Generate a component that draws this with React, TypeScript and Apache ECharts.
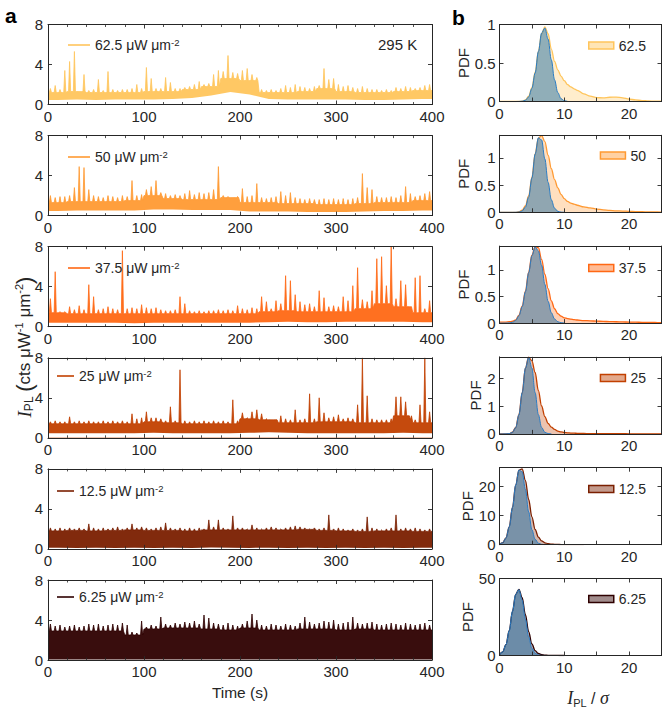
import React, { useEffect, useRef } from "react";
import * as echarts from "echarts";

const SANS = "'Liberation Sans', Arial, Helvetica, sans-serif";
const SERIF = "'Liberation Serif', 'Times New Roman', serif";
const INK = "#262626";

// ---------- data ----------
const powerLabels = ["62.5", "50", "37.5", "25", "12.5", "6.25"];
const traceColors = ["#FFC55C", "#FF9A33", "#FF6814", "#C24000", "#7A1F00", "#2E0000"];
const traceFills = [
  "rgba(255,197,92,0.45)",
  "rgba(255,154,51,0.45)",
  "rgba(255,104,20,0.45)",
  "rgba(194,64,0,0.45)",
  "rgba(122,31,0,0.45)",
  "rgba(46,0,0,0.45)",
];
const timeTicks = [0, 100, 200, 300, 400];
const intensityTicks = [0, 4, 8];
const BIN = 5; // s, resolution of peak envelope
const MID_BIN = 20; // s, resolution of band top / bottom

// peak value reached in each 5 s bin (cts µW-1 µm-2)
const hi1 = [1.6,1.9,1.5,3.4,4.3,5.3,1.3,3.0,1.4,1.5, 2.5,1.4,3.3,1.5,1.4,1.5,1.5,1.6,2.0,1.6,
  3.7,2.6,1.6,1.6,2.7,2.2,1.6,1.6,1.7,1.8, 2.0,2.3,2.0,2.1,3.0,3.4,3.3,4.9,3.2,3.1,
  3.4,3.6,3.0,2.7,1.5,1.4,1.5,1.4,1.6,1.9, 1.7,2.0,1.8,1.7,1.6,1.8,1.9,3.6,2.5,2.6,
  2.0,1.8,1.9,1.7,1.6,1.8,1.6,1.5,1.5,1.4, 1.5,1.4,1.7,1.6,1.8,1.7,1.6,1.7,1.9,2.0];
const hi2 = [2.0,1.8,1.9,1.9,2.0,2.8,4.9,4.8,2.6,2.0, 1.9,1.8,2.0,1.9,1.8,2.0,1.9,3.5,2.0,2.1,
  2.6,2.9,3.5,2.3,2.2,2.0,2.1,2.0,2.2,2.5, 2.1,2.3,2.2,2.3,2.6,4.9,2.0,1.9,1.8,1.9,
  2.7,1.9,2.0,3.2,1.8,1.7,1.8,1.9,2.4,2.0, 2.3,1.8,1.7,1.6,1.7,1.6,1.6,1.7,1.6,1.7,
  1.6,1.7,1.6,1.7,1.8,4.2,2.8,2.6,1.9,1.8, 1.8,1.9,1.8,2.0,2.9,2.2,1.9,2.0,2.2,2.4];
const hi3 = [2.8,5.5,1.5,1.5,2.0,1.7,2.1,1.7,4.2,3.0, 1.7,1.8,2.0,1.8,1.7,7.6,1.8,1.9,1.8,2.2,
  1.9,1.8,1.9,1.7,1.6,1.6,1.7,3.0,2.3,1.6, 1.5,1.6,1.5,1.6,1.6,1.7,1.6,1.7,1.6,2.1,
  1.8,1.7,1.9,1.8,3.0,2.5,1.8,2.6,2.3,5.1, 4.6,3.2,2.5,2.2,2.3,2.0,3.6,2.9,2.0,2.1,
  2.0,3.0,2.6,4.1,5.9,2.7,2.5,3.6,6.8,7.0, 4.1,8.0,2.8,4.6,4.2,2.0,4.9,5.1,1.8,2.6];
const hi4 = [1.6,1.7,1.6,1.6,2.1,1.6,1.7,1.6,1.7,1.6, 1.6,1.7,1.6,1.7,1.6,1.7,1.6,2.4,1.9,2.0,
  2.6,2.0,2.0,1.9,1.7,3.1,1.7,6.8,1.7,1.6, 1.7,1.6,1.7,1.6,1.7,1.6,1.7,1.6,3.8,1.7,
  2.5,2.0,2.6,2.8,2.4,1.9,1.8,1.8,2.2,1.9, 1.8,2.8,1.8,1.9,4.4,1.9,4.0,2.5,2.0,2.1,
  2.3,1.9,2.0,1.9,3.3,8.0,4.2,1.9,1.8,1.8, 1.8,1.9,4.1,4.1,3.6,1.8,1.8,3.3,8.0,2.6];
const hi5 = [2.1,2.0,2.1,2.0,2.1,2.0,2.1,2.0,2.5,2.1, 2.0,2.1,2.0,2.1,2.2,2.0,2.1,2.5,2.1,2.2,
  2.1,2.0,2.1,2.2,2.6,2.1,2.0,2.1,2.0,2.1, 2.0,2.1,2.0,2.9,2.2,2.9,2.1,2.0,3.3,2.1,
  2.1,2.0,2.4,2.1,2.0,2.1,2.2,2.1,2.0,2.1, 2.2,2.3,2.2,2.1,2.0,2.1,2.0,2.1,3.4,2.0,
  2.1,2.0,1.9,2.0,1.9,2.0,3.2,2.1,2.0,1.9, 2.0,2.1,3.4,2.0,2.1,2.0,2.1,2.0,1.9,2.0];
const hi6 = [3.6,3.4,3.5,3.3,3.4,3.5,3.3,3.4,3.6,3.5, 3.6,3.4,3.5,3.6,3.5,3.7,3.5,2.8,2.7,3.9,
  3.3,3.5,3.4,4.3,3.6,3.5,3.7,3.6,3.8,3.7, 3.9,3.6,4.5,4.2,3.7,3.6,3.5,3.7,3.5,3.4,
  3.6,3.9,4.6,4.0,3.5,3.4,3.6,3.5,3.4,3.6, 3.5,3.4,3.7,4.3,3.8,3.6,3.7,3.9,3.8,4.0,
  3.6,3.7,3.8,4.3,3.7,3.6,3.7,3.8,3.6,3.5, 3.6,3.7,3.6,3.5,3.7,3.6,3.5,3.6,3.7,3.5];

// top of the dense band in each 20 s bin
const mid1 = [1.2,1.3,1.2,1.2,1.2,1.3,1.3,1.5,1.8,2.6,2.4,1.2,1.2,1.3,1.6,1.3,1.2,1.2,1.3,1.4];
const mid2 = [1.3,1.4,1.4,1.4,1.5,2.0,1.7,1.6,1.6,1.8,1.3,1.3,1.2,1.2,1.1,1.1,1.2,1.3,1.3,1.5];
const mid3 = [1.4,1.3,1.3,1.3,1.3,1.3,1.3,1.3,1.3,1.3,1.3,1.5,1.6,1.5,1.5,1.5,1.8,2.3,2.0,1.4];
const mid4 = [1.4,1.4,1.4,1.4,1.4,1.6,1.5,1.4,1.4,1.4,1.9,1.8,1.5,1.5,1.6,1.6,1.5,1.5,2.2,1.5];
const mid5 = [1.8,1.85,1.8,1.85,1.9,1.85,1.85,1.8,1.9,1.9,1.9,1.9,1.9,1.95,1.85,1.8,1.75,1.8,1.8,1.75];
const mid6 = [2.9,2.9,2.9,2.9,2.5,3.1,3.2,3.2,3.1,3.0,3.2,3.0,3.0,3.1,3.1,3.0,3.1,3.0,3.0,3.0];

// bottom of the band in each 20 s bin
const lo1 = [0.45,0.5,0.45,0.5,0.5,0.5,0.55,0.65,0.9,1.25,1.0,0.55,0.5,0.5,0.5,0.5,0.45,0.45,0.5,0.55];
const lo2 = [0.45,0.5,0.5,0.5,0.5,0.6,0.6,0.55,0.55,0.55,0.4,0.4,0.4,0.35,0.35,0.35,0.4,0.45,0.45,0.5];
const lo3 = [0.4,0.4,0.4,0.4,0.35,0.4,0.4,0.4,0.4,0.4,0.4,0.45,0.5,0.45,0.45,0.5,0.5,0.5,0.5,0.45];
const lo4 = [0.45,0.45,0.45,0.45,0.45,0.5,0.45,0.45,0.45,0.45,0.5,0.55,0.5,0.45,0.45,0.45,0.45,0.45,0.5,0.45];
const lo5 = [0.12,0.1,0.12,0.1,0.12,0.1,0.12,0.1,0.15,0.12,0.1,0.12,0.1,0.12,0.1,0.12,0.1,0.12,0.1,0.12];
const lo6 = [0.06,0.05,0.06,0.05,0.06,0.05,0.06,0.05,0.06,0.05,0.06,0.05,0.06,0.05,0.06,0.05,0.06,0.05,0.06,0.05];

// PDF panels (x = I_PL / sigma)
const pdfX = [0,0.5,1,1.5,2,2.5,3,3.5,4,4.5,5,5.5,6,6.5,7,7.5,8,8.5,9,9.5,10,10.5,11,11.5,12,
  13,14,15,16,17,18,19,20,21,22,23,24,25];
const pdf1 = [0,0,0,0,0,0,0.001,0.005,0.02,0.07,0.18,0.38,0.65,0.88,0.97,0.88,0.68,0.52,0.41,0.33,
  0.27,0.22,0.19,0.165,0.145,0.1,0.07,0.05,0.048,0.055,0.057,0.048,0.032,0.02,0.012,0.007,0.004,0.003];
const pdf2 = [0,0,0,0,0,0,0.01,0.04,0.12,0.3,0.64,1.08,1.36,1.41,1.3,1.05,0.8,0.6,0.45,0.33,
  0.25,0.2,0.17,0.15,0.13,0.1,0.08,0.06,0.045,0.035,0.028,0.022,0.018,0.013,0.01,0.008,0.006,0.005];
const pdf3 = [0.02,0.02,0.02,0.025,0.035,0.06,0.15,0.32,0.6,0.96,1.28,1.44,1.42,1.2,0.92,0.65,0.42,0.27,0.18,0.13,
  0.1,0.085,0.075,0.065,0.058,0.048,0.042,0.037,0.032,0.028,0.025,0.022,0.02,0.017,0.015,0.013,0.011,0.01];
const pdf4 = [0,0,0.001,0.01,0.06,0.23,0.69,1.48,2.36,2.75,2.62,2.2,1.55,1.0,0.62,0.38,0.24,0.16,0.1,0.07,
  0.05,0.04,0.03,0.025,0.02,0.015,0.01,0.008,0.007,0.006,0.005,0.005,0.004,0.004,0.003,0.003,0.003,0.003];
const pdf5 = [0.16,0.68,2.3,6.1,12.7,20.4,25.5,25.9,22,15.5,9.5,5.2,2.6,1.3,0.65,0.35,0.2,0.12,0.08,0.05,
  0.04,0.03,0.025,0.02,0.015,0.01];
const pdf6 = [0.64,2.4,7.1,16.1,28.7,39.7,43,37.5,26.5,15.5,7.5,3.2,1.3,0.55,0.25,0.12,0.06,0.03,0.02,0.01,0.01];

// fitted Gaussians (blue)
const gauss1 = [0,0,0,0,0,0,0.001,0.004,0.017,0.06,0.17,0.37,0.65,0.89,0.955,0.81,0.54,0.28,0.115,0.037,0.01,0.002];
const gauss2 = [0,0,0,0,0,0.001,0.005,0.025,0.096,0.28,0.63,1.07,1.37,1.33,0.98,0.55,0.23,0.075,0.018,0.003,0];
const gauss3 = [0,0,0.001,0.004,0.016,0.05,0.14,0.31,0.59,0.95,1.27,1.435,1.36,1.09,0.73,0.41,0.195,0.078,0.026,0.007,0.002];
const gauss4 = [0,0,0.001,0.01,0.058,0.23,0.69,1.48,2.36,2.75,2.36,1.48,0.69,0.23,0.058,0.01,0.001];
const gauss5 = [0.16,0.68,2.3,6.1,12.7,20.4,25.5,24.9,18.9,11.2,5.1,1.85,0.52,0.11,0.02];
const gauss6 = [0.64,2.4,7.1,16.1,28.7,39.7,42.8,35.9,23.5,12,4.7,1.46,0.35,0.07,0.01];

const pdfYMax = [1, 1.415, 1.45, 2.76, 26.3, 50];
const pdfYInterval = [0.5, 0.5, 0.5, 1, 10, 50];

// ---------- layout ----------
const leftGrid = { left: 48, width: 384, height: 80, top0: 24.5, step: 111.1 };
const rightGrid = { left: 499.5, width: 162, height: 77, top0: 24.5, step: 110.8 };
const leftLegendLeft = [68, 68, 68, 57, 57, 57];
const leftLegendWidth = [22, 22, 22, 17, 17, 17];
const leftLegendCy = [45, 157, 268, 376, 491, 597];
const rightLegendCy = [45.5, 155.5, 268, 378, 489, 599];
const pdfNameGap = [28, 28, 28, 14.5, 24, 24];
const SPIKE_HALF = 1.1; // s, half-width of each peak in the trace drawing

const hiSets = [hi1, hi2, hi3, hi4, hi5, hi6];
const midSets = [mid1, mid2, mid3, mid4, mid5, mid6];
const loSets = [lo1, lo2, lo3, lo4, lo5, lo6];
const pdfSets = [pdf1, pdf2, pdf3, pdf4, pdf5, pdf6];
const gaussSets = [gauss1, gauss2, gauss3, gauss4, gauss5, gauss6];

function spikes(hi: number[], mid: number[]) {
  const per = MID_BIN / BIN;
  const pts: number[][] = [];
  hi.forEach((h, i) => {
    const m = mid[Math.floor(i / per)];
    const c = i * BIN + BIN / 2;
    pts.push([i * BIN, m]);
    pts.push([c - SPIKE_HALF, m]);
    pts.push([c, h]);
    pts.push([c + SPIKE_HALF, m]);
  });
  pts.push([hi.length * BIN, mid[mid.length - 1]]);
  return pts;
}
function maskLine(lo: number[]) {
  const pts: number[][] = [[0, lo[0]]];
  lo.forEach((v, j) => pts.push([j * MID_BIN + MID_BIN / 2, v]));
  pts.push([lo.length * MID_BIN, lo[lo.length - 1]]);
  return pts;
}
function zip(xs: number[], ys: number[]) {
  return ys.map((y, k) => [xs[k], y]);
}

function buildOption() {
  const grid: any[] = [];
  const xAxis: any[] = [];
  const yAxis: any[] = [];
  const series: any[] = [];
  const legend: any[] = [];

  const line = { show: true, onZero: false, lineStyle: { color: INK, width: 1 } };
  const tick = { show: true, inside: true, length: 4, lineStyle: { color: INK, width: 0.9 } };
  const label = (show: boolean, extra: any = {}) => ({
    show, color: INK, fontSize: 15, fontFamily: SANS, margin: 4, ...extra,
  });

  function addAxes(g: number, xs: any, ys: any) {
    const common = { type: "value", gridIndex: g, z: 10, splitLine: { show: false }, axisLine: line, axisTick: tick };
    for (const pos of ["bottom", "top"]) {
      xAxis.push({
        ...common, position: pos, min: xs.min, max: xs.max, interval: xs.interval,
        minorTick: xs.minor ? { show: true, splitNumber: xs.minor, length: 2.5, lineStyle: { color: INK, width: 0.8 } } : { show: false },
        axisLabel: label(pos === "bottom", xs.formatter ? { formatter: xs.formatter } : {}),
      });
    }
    for (const pos of ["left", "right"]) {
      const y: any = {
        ...common, position: pos, min: ys.min, max: ys.max, interval: ys.interval,
        axisLabel: label(pos === "left", { showMaxLabel: !ys.hideMax, margin: ys.margin ?? 4 }),
      };
      if (pos === "left" && ys.name) {
        y.name = ys.name;
        y.nameLocation = "middle";
        y.nameGap = ys.nameGap;
        y.nameTextStyle = { color: INK, fontSize: 15, fontFamily: SANS };
      }
      yAxis.push(y);
    }
  }

  for (let i = 0; i < 6; i++) {
    const c = traceColors[i];
    // ----- left: time trace -----
    const gL = grid.length;
    grid.push({ left: leftGrid.left, width: leftGrid.width, height: leftGrid.height, top: leftGrid.top0 + leftGrid.step * i });
    addAxes(gL,
      { min: timeTicks[0], max: timeTicks[timeTicks.length - 1], interval: timeTicks[1] - timeTicks[0], minor: 5 },
      { min: intensityTicks[0], max: intensityTicks[intensityTicks.length - 1], interval: intensityTicks[1] - intensityTicks[0], margin: 5 });
    series.push({
      type: "line", name: "trace" + i, xAxisIndex: 2 * gL, yAxisIndex: 2 * gL,
      data: spikes(hiSets[i], midSets[i]), symbol: "none", silent: true,
      lineStyle: { color: c, width: 0.8 }, itemStyle: { color: c },
      areaStyle: { color: c, opacity: 0.95 }, z: 2,
    });
    series.push({
      type: "line", name: "mask" + i, xAxisIndex: 2 * gL, yAxisIndex: 2 * gL,
      data: maskLine(loSets[i]), symbol: "none", silent: true,
      lineStyle: { width: 0, opacity: 0 }, areaStyle: { color: "#ffffff", opacity: 1 }, z: 3,
    });
    const p = powerLabels[i];
    legend.push({
      data: ["trace" + i], left: leftLegendLeft[i], top: leftLegendCy[i] - 8, padding: 0,
      icon: "rect", itemWidth: leftLegendWidth[i], itemHeight: 1.6, selectedMode: false,
      itemStyle: { color: c, borderWidth: 0 },
      formatter: () => `{t|${p} μW μm}{s|-2}`,
      textStyle: {
        color: INK, fontFamily: SANS, fontSize: 14,
        rich: {
          t: { color: INK, fontFamily: SANS, fontSize: 14, lineHeight: 16 },
          s: { color: INK, fontFamily: SANS, fontSize: 9.5, lineHeight: 9, verticalAlign: "top" },
        },
      },
    });

    // ----- right: PDF -----
    const gR = grid.length;
    grid.push({ left: rightGrid.left, width: rightGrid.width, height: rightGrid.height, top: rightGrid.top0 + rightGrid.step * i });
    addAxes(gR,
      { min: 0, max: 25, interval: 5, formatter: (v: number) => (v % 10 === 0 && v < 25 ? String(v) : "") },
      { min: 0, max: pdfYMax[i], interval: pdfYInterval[i], hideMax: pdfYMax[i] % pdfYInterval[i] !== 0, name: "PDF", nameGap: pdfNameGap[i] });
    series.push({
      type: "line", name: "pdf" + i, xAxisIndex: 2 * gR, yAxisIndex: 2 * gR,
      data: zip(pdfX, pdfSets[i]), smooth: 0.35, smoothMonotone: "x", symbol: "none", silent: true,
      lineStyle: { color: c, width: 1.3 }, itemStyle: { color: c },
      areaStyle: { color: traceFills[i] }, z: 2,
    });
    series.push({
      type: "line", name: "gauss" + i, xAxisIndex: 2 * gR, yAxisIndex: 2 * gR,
      data: zip(pdfX, gaussSets[i]), smooth: 0.35, smoothMonotone: "x", symbol: "none", silent: true,
      lineStyle: { color: "#2A7CC4", width: 1 }, itemStyle: { color: "#2A7CC4" },
      areaStyle: { color: "rgba(12,100,161,0.65)" }, z: 3,
    });
    legend.push({
      data: ["pdf" + i], right: 19, top: rightLegendCy[i] - 8, padding: 0,
      icon: "rect", itemWidth: 25, itemHeight: 7, selectedMode: false,
      itemStyle: { color: traceFills[i], borderColor: c, borderWidth: 1.5 },
      formatter: () => p,
      textStyle: { color: INK, fontFamily: SANS, fontSize: 14, lineHeight: 16 },
    });
  }

  const graphic = [
    { type: "text", x: 5, y: 15, silent: true,
      style: { text: "a", fill: "#000", fontSize: 21, fontWeight: "bold", fontFamily: SANS, align: "left", verticalAlign: "middle" } },
    { type: "text", x: 452, y: 17, silent: true,
      style: { text: "b", fill: "#000", fontSize: 21, fontWeight: "bold", fontFamily: SANS, align: "left", verticalAlign: "middle" } },
    { type: "text", x: 378, y: 44, silent: true,
      style: { text: "295 K", fill: INK, fontSize: 15, fontFamily: SANS, align: "left", verticalAlign: "middle" } },
    { type: "text", x: 240, y: 692, silent: true,
      style: { text: "Time (s)", fill: INK, fontSize: 15.5, fontFamily: SANS, align: "center", verticalAlign: "middle" } },
    { type: "text", x: 24, y: 347, rotation: Math.PI / 2, silent: true,
      style: {
        text: "{i|I}{sub|PL}{t| }{p|(}{t|cts μW}{sup|-1}{t| μm}{sup|-2}{p|)}",
        fill: INK, fontSize: 17, fontFamily: SANS, align: "center", verticalAlign: "middle",
        rich: {
          i: { fill: INK, fontFamily: SERIF, fontStyle: "italic", fontSize: 19, lineHeight: 22 },
          sub: { fill: INK, fontFamily: SANS, fontSize: 12, lineHeight: 12, verticalAlign: "bottom" },
          t: { fill: INK, fontFamily: SANS, fontSize: 17, lineHeight: 22 },
          p: { fill: INK, fontFamily: SANS, fontSize: 22, lineHeight: 22 },
          sup: { fill: INK, fontFamily: SANS, fontSize: 11, lineHeight: 11, verticalAlign: "top" },
        },
      } },
    { type: "text", x: 588, y: 698, silent: true,
      style: {
        text: "{i|I}{sub|PL}{t| / }{g|σ}",
        fill: INK, fontSize: 16, fontFamily: SANS, align: "center", verticalAlign: "middle",
        rich: {
          i: { fill: INK, fontFamily: SERIF, fontStyle: "italic", fontSize: 18, lineHeight: 20 },
          sub: { fill: INK, fontFamily: SANS, fontSize: 11, lineHeight: 11, verticalAlign: "bottom" },
          t: { fill: INK, fontFamily: SANS, fontSize: 16, lineHeight: 20 },
          g: { fill: INK, fontFamily: SERIF, fontStyle: "italic", fontSize: 18, lineHeight: 20 },
        },
      } },
  ];

  return { animation: false, backgroundColor: "#ffffff", grid, xAxis, yAxis, series, legend, graphic };
}

export default function App() {
  const ref = useRef<HTMLDivElement>(null);
  useEffect(() => {
    document.body.style.margin = "0";
    const chart = echarts.init(ref.current as HTMLDivElement, null, { renderer: "svg" });
    chart.setOption(buildOption() as any);
    return () => chart.dispose();
  }, []);
  return <div ref={ref} style={{ width: 665, height: 709 }} />;
}
